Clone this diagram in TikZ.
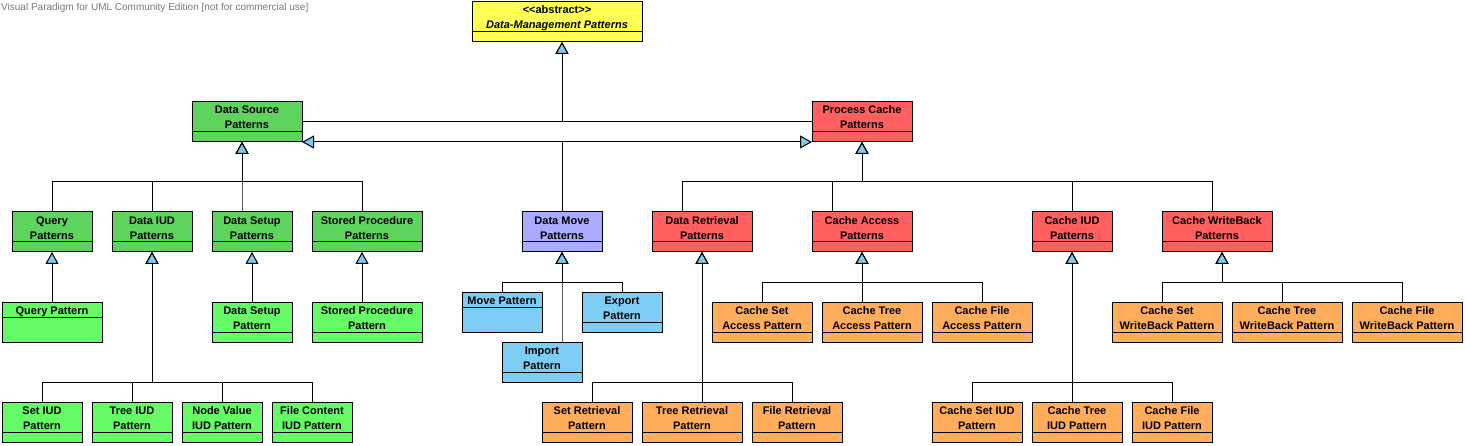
\documentclass[tikz,border=0pt]{standalone}
\usepackage{fontspec}
\newfontfamily\boxfont{Liberation Sans}
\usetikzlibrary{arrows.meta}
\definecolor{absyellow}{RGB}{255,255,85}
\definecolor{dsgreen}{RGB}{94,212,94}
\definecolor{leafgreen}{RGB}{102,250,102}
\definecolor{pcred}{RGB}{255,95,95}
\definecolor{leaforange}{RGB}{255,173,91}
\definecolor{movepurple}{RGB}{170,170,255}
\definecolor{leafblue}{RGB}{125,205,245}
\definecolor{tipblue}{RGB}{130,200,235}
\definecolor{wmgray}{RGB}{120,120,120}
\newcommand{\umltext}[2]{\parbox[c][40pt][t]{#1pt}{\centering\rule{0pt}{12pt}#2}}
\tikzset{cmp/.store in=\cmpoff, cmp=10pt}
\begin{document}
\begin{tikzpicture}[x=1pt,y=-1pt,
  cls/.style={cmp=10pt, draw=black, line width=1pt, fill=#1, anchor=north west,
    inner sep=0pt, outer sep=0pt,
    font=\boxfont\bfseries\fontsize{11pt}{15pt}\selectfont,
    path picture={\draw[line width=1pt]
      ([yshift=\cmpoff]path picture bounding box.south west) --
      ([yshift=\cmpoff]path picture bounding box.south east);}},
  gen/.style={draw=black, line width=1pt, line join=miter,
    -{Triangle[length=12pt,width=13pt,fill=tipblue]}}]
\useasboundingbox (0,0) rectangle (1466,446);

% watermark
\node[anchor=base west, inner sep=0pt, text=wmgray,
  font=\boxfont\fontsize{10pt}{12pt}\selectfont] (wm) at (1,11)
  {Visual Paradigm for UML Community Edition [not for commercial use]};

% abstract root
\node[cls=absyellow] (abs) at (472,2)
  {\umltext{170}{<\kern0pt<abstract>\kern0pt>\\\textit{Data-Management Patterns}}};

% level 1
\node[cls=dsgreen] (ds) at (192,102) {\umltext{110}{Data Source\\Patterns}};
\node[cls=pcred] (pc) at (812,102) {\umltext{100}{Process Cache\\Patterns}};

% level 2
\node[cls=dsgreen] (qp) at (12,212) {\umltext{80}{Query\\Patterns}};
\node[cls=dsgreen] (diud) at (112,212) {\umltext{80}{Data IUD\\Patterns}};
\node[cls=dsgreen] (dsetup) at (212,212) {\umltext{80}{Data Setup\\Patterns}};
\node[cls=dsgreen] (sproc) at (312,212) {\umltext{110}{Stored Procedure\\Patterns}};
\node[cls=movepurple] (dmove) at (522,212) {\umltext{80}{Data Move\\Patterns}};
\node[cls=pcred] (dret) at (652,212) {\umltext{100}{Data Retrieval\\Patterns}};
\node[cls=pcred] (cacc) at (812,212) {\umltext{100}{Cache Access\\Patterns}};
\node[cls=pcred] (ciud) at (1032,212) {\umltext{80}{Cache IUD\\Patterns}};
\node[cls=pcred] (cwb) at (1162,212) {\umltext{110}{Cache WriteBack\\Patterns}};

% level 3
\node[cls=leafgreen, cmp=25pt] (qpat) at (2,302) {\umltext{100}{Query Pattern}};
\node[cls=leafgreen] (dsetpat) at (212,302) {\umltext{80}{Data Setup\\Pattern}};
\node[cls=leafgreen] (sprocpat) at (312,302) {\umltext{110}{Stored Procedure\\Pattern}};
\node[cls=leafblue, cmp=25pt] (movepat) at (462,292) {\umltext{80}{Move Pattern}};
\node[cls=leafblue] (exportpat) at (582,292) {\umltext{80}{Export\\Pattern}};
\node[cls=leafblue] (importpat) at (502,342) {\umltext{80}{Import\\Pattern}};
\node[cls=leaforange] (csacc) at (712,302) {\umltext{100}{Cache Set\\Access Pattern}};
\node[cls=leaforange] (ctacc) at (822,302) {\umltext{100}{Cache Tree\\Access Pattern}};
\node[cls=leaforange] (cfacc) at (932,302) {\umltext{100}{Cache File\\Access Pattern}};
\node[cls=leaforange] (cswb) at (1112,302) {\umltext{110}{Cache Set\\WriteBack Pattern}};
\node[cls=leaforange] (ctwb) at (1232,302) {\umltext{110}{Cache Tree\\WriteBack Pattern}};
\node[cls=leaforange] (cfwb) at (1352,302) {\umltext{110}{Cache File\\WriteBack Pattern}};

% level 4
\node[cls=leafgreen] (siud) at (2,402) {\umltext{80}{Set IUD\\Pattern}};
\node[cls=leafgreen] (tiud) at (92,402) {\umltext{80}{Tree IUD\\Pattern}};
\node[cls=leafgreen] (nviud) at (182,402) {\umltext{80}{Node Value\\IUD Pattern}};
\node[cls=leafgreen] (fciud) at (272,402) {\umltext{80}{File Content\\IUD Pattern}};
\node[cls=leaforange] (sret) at (542,402) {\umltext{90}{Set Retrieval\\Pattern}};
\node[cls=leaforange] (tret) at (642,402) {\umltext{100}{Tree Retrieval\\Pattern}};
\node[cls=leaforange] (fret) at (752,402) {\umltext{90}{File Retrieval\\Pattern}};
\node[cls=leaforange] (csiud) at (932,402) {\umltext{90}{Cache Set IUD\\Pattern}};
\node[cls=leaforange] (ctiud) at (1032,402) {\umltext{90}{Cache Tree\\IUD Pattern}};
\node[cls=leaforange] (cfiud) at (1132,402) {\umltext{80}{Cache File\\IUD Pattern}};

% attach points and bars
\coordinate (absA) at ([xshift=5pt]abs.south);
\coordinate (dsA) at ([xshift=-5pt]ds.south);
\coordinate (cwbA) at ([xshift=5pt]cwb.south);
\coordinate (barT) at (0,182);
\coordinate (barM) at (0,282);
\coordinate (barL) at (0,382);

% to abstract
\draw[gen] (ds.east) -- (ds.east -| absA) -- (absA);
\draw[gen] (pc.west) -- (pc.west -| absA) -- (absA);
% data move: multiple generalisation
\draw[gen] (dmove.north) -- (dmove.north |- ds.south east) -- (ds.south east);
\draw[gen] (dmove.north) -- (dmove.north |- pc.south west) -- (pc.south west);

% data source children
\draw[gen] (qp.north) |- (barT -| dsA) -- (dsA);
\draw[gen] (diud.north) |- (barT -| dsA) -- (dsA);
\draw[gen] ([xshift=-10pt]dsetup.north) |- (barT -| dsA) -- (dsA);
\draw[gen] ([xshift=-5pt]sproc.north) |- (barT -| dsA) -- (dsA);

\draw[gen] (qpat.north) -- (qp.south);
\draw[gen] (dsetpat.north) -- (dsetup.south);
\draw[gen] ([xshift=-5pt]sprocpat.north) -- ([xshift=-5pt]sproc.south);

\draw[gen] (siud.north) |- (barL -| diud.south) -- (diud.south);
\draw[gen] (tiud.north) |- (barL -| diud.south) -- (diud.south);
\draw[gen] (nviud.north) |- (barL -| diud.south) -- (diud.south);
\draw[gen] (fciud.north) |- (barL -| diud.south) -- (diud.south);

% data move children
\draw[gen] (movepat.north) |- (barM -| dmove.south) -- (dmove.south);
\draw[gen] (exportpat.north) |- (barM -| dmove.south) -- (dmove.south);
\draw[gen] ([xshift=20pt]importpat.north) |- (barM -| dmove.south) -- (dmove.south);

% process cache children
\draw[gen] ([xshift=-20pt]dret.north) |- (barT -| pc.south) -- (pc.south);
\draw[gen] ([xshift=-30pt]cacc.north) |- (barT -| pc.south) -- (pc.south);
\draw[gen] (ciud.north) |- (barT -| pc.south) -- (pc.south);
\draw[gen] ([xshift=-5pt]cwb.north) |- (barT -| pc.south) -- (pc.south);

\draw[gen] ([xshift=5pt]sret.north) |- (barL -| dret.south) -- (dret.south);
\draw[gen] ([xshift=10pt]tret.north) |- (barL -| dret.south) -- (dret.south);
\draw[gen] ([xshift=-5pt]fret.north) |- (barL -| dret.south) -- (dret.south);

\draw[gen] (csacc.north) |- (barM -| cacc.south) -- (cacc.south);
\draw[gen] ([xshift=-10pt]ctacc.north) |- (barM -| cacc.south) -- (cacc.south);
\draw[gen] (cfacc.north) |- (barM -| cacc.south) -- (cacc.south);

\draw[gen] ([xshift=-5pt]csiud.north) |- (barL -| ciud.south) -- (ciud.south);
\draw[gen] ([xshift=-5pt]ctiud.north) |- (barL -| ciud.south) -- (ciud.south);
\draw[gen] (cfiud.north) |- (barL -| ciud.south) -- (ciud.south);

\draw[gen] ([xshift=-5pt]cswb.north) |- (barM -| cwbA) -- (cwbA);
\draw[gen] ([xshift=-5pt]ctwb.north) |- (barM -| cwbA) -- (cwbA);
\draw[gen] ([xshift=-5pt]cfwb.north) |- (barM -| cwbA) -- (cwbA);
\end{tikzpicture}
\end{document}
